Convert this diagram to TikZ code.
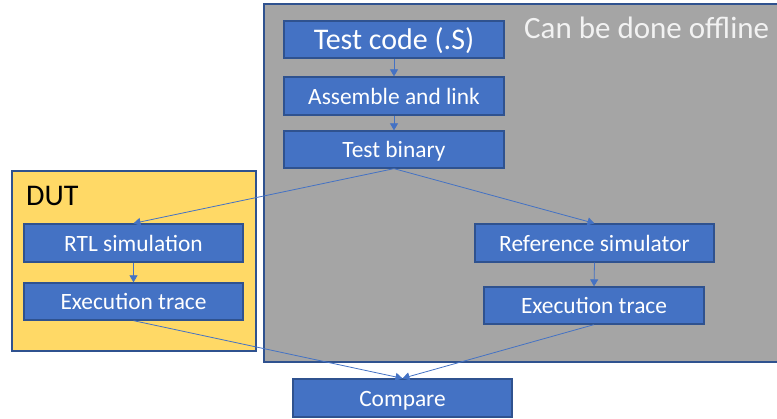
\documentclass[tikz,border=0pt]{standalone}
\usepackage{fontspec}
\setmainfont{Carlito}
\usetikzlibrary{arrows.meta}
\definecolor{boxblue}{HTML}{4472C4}
\definecolor{boxedge}{HTML}{2F528F}
\definecolor{grayfill}{HTML}{A5A5A5}
\definecolor{yellowfill}{HTML}{FFD966}
\definecolor{lighttext}{HTML}{F2F2F2}
\tikzset{
  stepbox/.style={draw=boxedge, fill=boxblue, line width=1.3pt, text=white,
    inner sep=0pt, font=\fontsize{23.4}{23.4}\selectfont, text height=17pt, text depth=0pt},
  bigbox/.style={stepbox, font=\fontsize{30}{30}\selectfont, text height=19.6pt},
  conn/.style={draw=boxblue, line width=0.8pt, -{Triangle[width=8pt,length=7pt]}},
  region/.style={draw=boxedge, line width=1.3pt}
}
\begin{document}
\begin{tikzpicture}[x=1pt,y=-1pt]
\useasboundingbox (0,0) rectangle (777,419);
% regions
\draw[region, fill=grayfill] (264,4) rectangle (782,362);
\draw[region, fill=yellowfill] (12,171) rectangle (256,351);
\node[anchor=base west, text=lighttext, font=\fontsize{31}{31}\selectfont, inner sep=0pt] (offline) at (524,39) {Can be done offline};
\node[anchor=base west, text=black, font=\fontsize{30}{30}\selectfont, inner sep=0pt] (dut) at (26,206) {DUT};
% boxes
\node[bigbox, minimum width=220pt, minimum height=37pt] (code) at (394,39.5) {Test code (.S)};
\node[stepbox, minimum width=220pt, minimum height=38pt] (asm) at (394,96) {Assemble and link};
\node[stepbox, minimum width=220pt, minimum height=37pt] (bin) at (394,149.5) {Test binary};
\node[stepbox, minimum width=219pt, minimum height=38pt] (rtl) at (133.5,243) {RTL simulation};
\node[stepbox, minimum width=219pt, minimum height=37pt] (traceL) at (133.5,301.5) {Execution trace};
\node[stepbox, minimum width=239pt, minimum height=38pt] (ref) at (594.5,243) {Reference simulator};
\node[stepbox, minimum width=220pt, minimum height=37pt] (traceR) at (594,305.5) {Execution trace};
\node[stepbox, minimum width=219pt, minimum height=38pt] (cmp) at (402.5,398) {Compare};
% connectors
\draw[conn] (code.south) -- (asm.north);
\draw[conn] (asm.south) -- (bin.north);
\draw[conn] (bin.south) -- (rtl.north);
\draw[conn] (bin.south) -- (ref.north);
\draw[conn] (rtl.south) -- (traceL.north);
\draw[conn] (ref.south) -- (traceR.north);
\draw[conn] (traceL.south) -- (cmp.north);
\draw[conn] (traceR.south) -- (cmp.north);
\end{tikzpicture}
\end{document}
